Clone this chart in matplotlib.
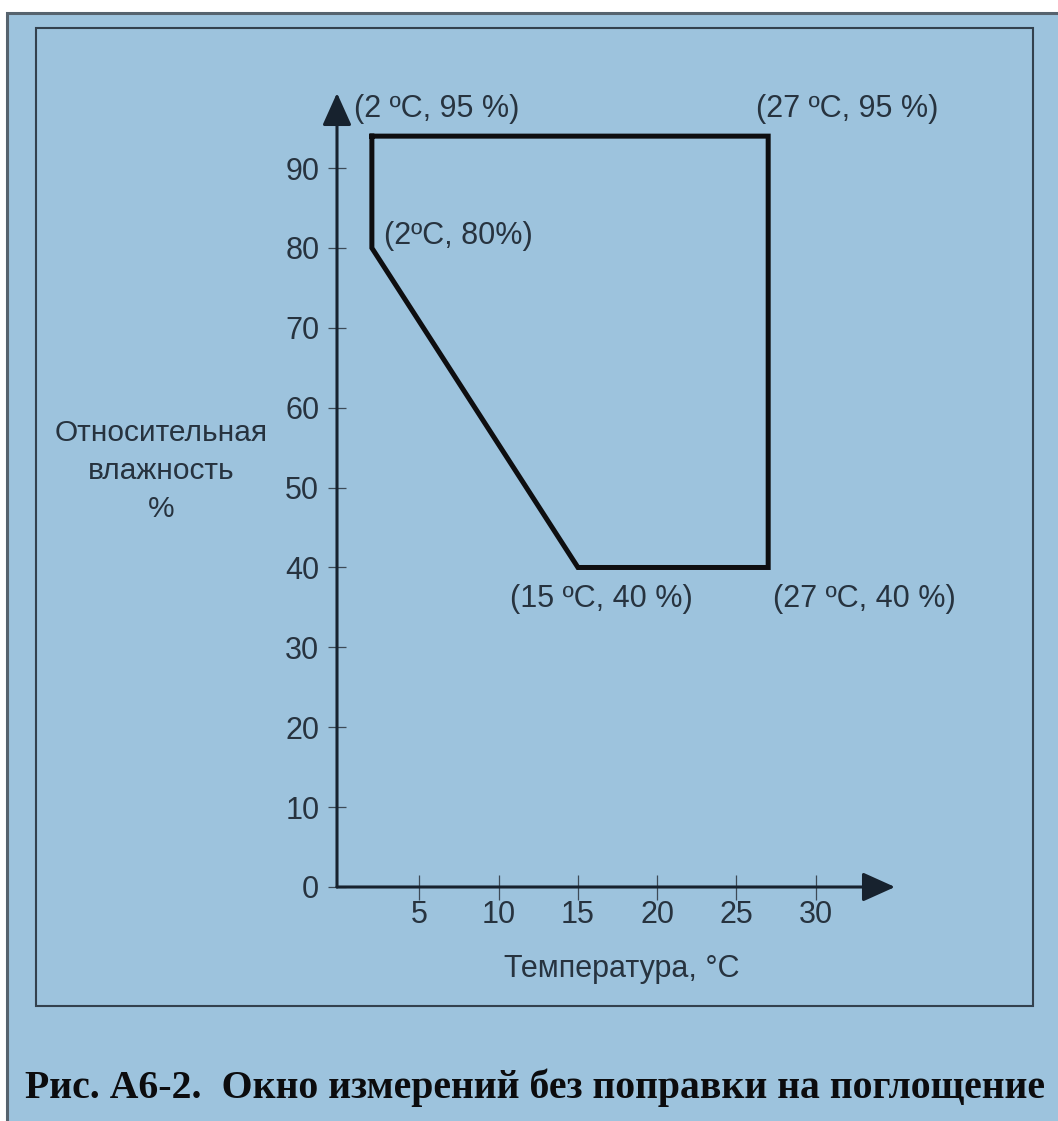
import matplotlib
matplotlib.use("Agg")
import matplotlib.pyplot as plt
from matplotlib.patches import Rectangle

# polygon of the measurement window (temperature, humidity)
temp_c = [2, 27, 27, 15, 2, 2]
humidity = [94, 94, 40, 40, 80, 94]

# vertex labels and where they sit relative to the vertex (offset points)
vertex_labels = ["(2 \u00baC, 95 %)", "(2\u00baC, 80%)", "(27 \u00baC, 95 %)",
                 "(15 \u00baC, 40 %)", "(27 \u00baC, 40 %)"]
vertex_xy = [(2, 94), (2, 80), (27, 94), (15, 40), (27, 40)]
label_offsets = [(-13, 19.5), (8.5, 8.5), (-8.5, 19.5), (-49, -23), (3.5, -23)]

x_ticks = [5, 10, 15, 20, 25, 30]
y_ticks = [0, 10, 20, 30, 40, 50, 60, 70, 80, 90]

x_label = "Температура, °C"
y_label = "Относительная\nвлажность\n%"
caption = "Рис. А6-2.  Окно измерений без поправки на поглощение"

BG = "#9dc3dd"
TEXT = "#27333f"
AXIS = "#17222e"
W, H = 1058, 1121

plt.rcParams['font.family'] = ['Liberation Sans', 'DejaVu Sans']

fig = plt.figure(figsize=(W / 100, H / 100), dpi=100, facecolor="white")

# outer frame (only top and left edges visible) and inner box
fig.patches.append(Rectangle((6.5 / W, -0.1), 1.2, 1.1 - 13.5 / H,
                             transform=fig.transFigure, facecolor=BG,
                             edgecolor="#56636e", linewidth=2.2, zorder=0))
fig.patches.append(Rectangle((36 / W, 1 - 1006 / H), (1033 - 36) / W, (1006 - 28) / H,
                             transform=fig.transFigure, facecolor="none",
                             edgecolor="#33414e", linewidth=1.5, zorder=1))

ax = fig.add_axes([337 / W, 1 - 887 / H, (895 - 337) / W, (887 - 93) / H])
ax.set_zorder(3)
ax.set_facecolor("none")
x_min, x_max = -0.2, 35.0
y_min, y_max = 0, 99.4
ax.set_xlim(x_min, x_max)
ax.set_ylim(y_min, y_max)
for s in ax.spines.values():
    s.set_visible(False)

# axes drawn as arrows
arrow = dict(arrowstyle="-|>,head_length=1.0,head_width=0.45", color=AXIS,
             lw=2.2, shrinkA=0, shrinkB=0, mutation_scale=20)
ax.annotate("", xy=(x_max, 0), xytext=(x_min, 0), arrowprops=arrow, annotation_clip=False)
ax.annotate("", xy=(x_min, y_max), xytext=(x_min, 0), arrowprops=arrow, annotation_clip=False)

ax.set_xticks(x_ticks)
ax.set_yticks(y_ticks)
ax.tick_params(axis="x", direction="inout", length=18, width=0.9, color="#3d4a56",
               labelsize=22, labelcolor=TEXT, pad=0.5)
ax.tick_params(axis="y", direction="inout", length=13.5, width=0.9, color="#3d4a56",
               labelsize=22, labelcolor=TEXT, pad=6)

ax.plot(temp_c, humidity, color="#0e0e10", lw=3.6, solid_joinstyle="miter",
        clip_on=False, zorder=3)

for text, xy, off in zip(vertex_labels, vertex_xy, label_offsets):
    ax.annotate(text, xy=xy, xytext=off, textcoords="offset points",
                ha="left", va="center", fontsize=22, color=TEXT, annotation_clip=False)

fig.text(622 / W, 1 - 977 / H, x_label, ha="center", va="baseline",
         fontsize=22, color=TEXT)
fig.text(161 / W, 1 - 471 / H, y_label, ha="center", va="center",
         multialignment="center", fontsize=21.5, color=TEXT, linespacing=1.45)

fig.text(25 / W, 1 - 1098 / H, caption, ha="left", va="baseline",
         fontsize=28.6, fontweight="bold", color="#0c0c0e",
         family=["Liberation Serif", "DejaVu Serif"])

fig.savefig("out.png", dpi=100, facecolor=fig.get_facecolor())
